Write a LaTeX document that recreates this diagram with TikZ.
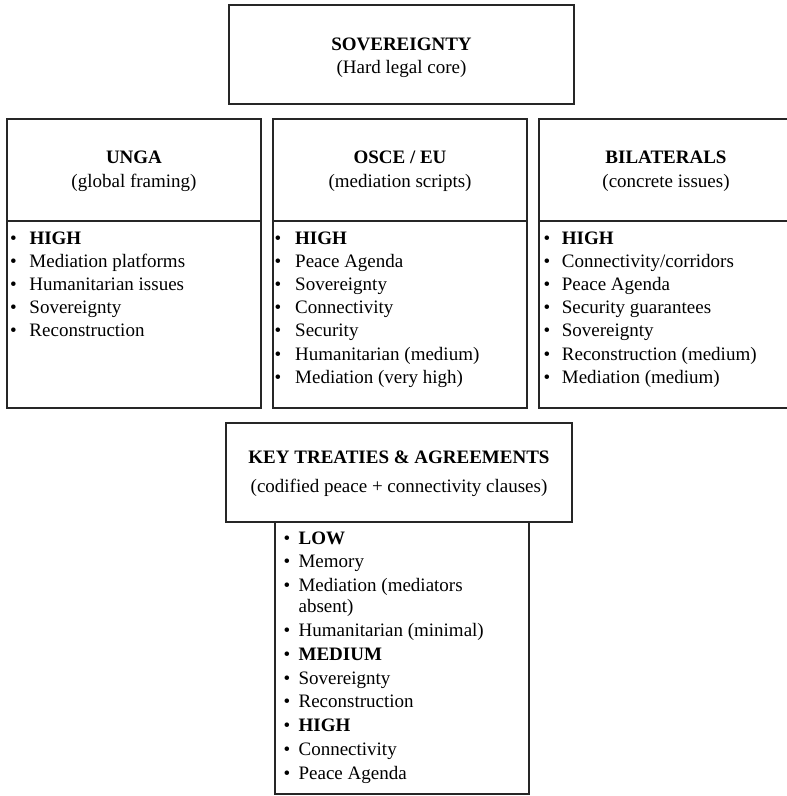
\documentclass[tikz,border=0pt]{standalone}
\usepackage{fontspec}
\setmainfont{Liberation Serif}
\newcommand{\bl}[1]{\makebox[#1][l]{•}}
\begin{document}
\begin{tikzpicture}[x=1pt,y=-1pt,
  box/.style={draw=black!85, line width=1.8pt, inner sep=0pt, outer sep=0pt, anchor=north west},
  ttl/.style={inner sep=0pt, anchor=base, font=\fontsize{19}{23}\selectfont\bfseries},
  sub/.style={inner sep=0pt, anchor=base, font=\fontsize{19}{23}\selectfont},
  itm/.style={inner sep=0pt, anchor=base west, font=\fontsize{19}{23}\selectfont}]
\useasboundingbox (0,0) rectangle (787,796);
% top box
\node[box, minimum width=345pt, minimum height=99pt] (sov) at (229,5) {};
\node[ttl] (sovt) at (401.5,50) {SOVEREIGNTY};
\node[sub] (sovs) at (401.5,73) {(Hard legal core)};
% UNGA
\node[box, minimum width=254pt, minimum height=102pt] (ungah) at (7,119) {};
\node[box, minimum width=254pt, minimum height=187pt] (ungab) at (7,221) {};
\node[ttl] (ungat) at (134,163) {UNGA};
\node[sub] (ungas) at (134,187) {(global framing)};
\foreach \t [count=\i from 0] in {\textbf{HIGH},Mediation platforms,Humanitarian issues,Sovereignty,Reconstruction}
  \node[itm] (ui\i) at (9.9,244+\i*23.2) {\bl{19.4pt}\t};
% OSCE
\node[box, minimum width=254pt, minimum height=102pt] (osceh) at (273,119) {};
\node[box, minimum width=254pt, minimum height=187pt] (osceb) at (273,221) {};
\node[ttl] (oscet) at (400,163) {OSCE / EU};
\node[sub] (osces) at (400,187) {(mediation scripts)};
\foreach \t [count=\i from 0] in {\textbf{HIGH},Peace Agenda,Sovereignty,Connectivity,Security,Humanitarian (medium),Mediation (very high)}
  \node[itm] (oi\i) at (274.4,244+\i*23.2) {\bl{20.6pt}\t};
% BILATERALS
\node[box, minimum width=254pt, minimum height=102pt] (bilh) at (539,119) {};
\node[box, minimum width=254pt, minimum height=187pt] (bilb) at (539,221) {};
\node[ttl] (bilt) at (666,163) {BILATERALS};
\node[sub] (bils) at (666,187) {(concrete issues)};
\foreach \t [count=\i from 0] in {\textbf{HIGH},Connectivity/corridors,Peace Agenda,Security guarantees,Sovereignty,Reconstruction (medium),Mediation (medium)}
  \node[itm] (bi\i) at (543.4,244+\i*23.2) {\bl{18.3pt}\t};
% KEY TREATIES
\node[box, minimum width=346pt, minimum height=99pt] (keyh) at (226,423) {};
\node[box, minimum width=254pt, minimum height=272pt] (keyb) at (275,522) {};
\node[ttl] (keyt) at (399,463) {KEY TREATIES \& AGREEMENTS};
\node[sub] (keys) at (399,492) {(codified peace + connectivity clauses)};
\node[itm] (k0) at (283.4,544) {\bl{15pt}\textbf{LOW}};
\node[itm] (k1) at (283.4,567.8) {\bl{15pt}Memory};
\node[itm] (k2) at (283.4,591.6) {\bl{15pt}Mediation (mediators};
\node[itm] (k2b) at (283.4,612.6) {\hspace*{15pt}absent)};
\node[itm] (k3) at (283.4,636.4) {\bl{15pt}Humanitarian (minimal)};
\node[itm] (k4) at (283.4,660.2) {\bl{15pt}\textbf{MEDIUM}};
\node[itm] (k5) at (283.4,684) {\bl{15pt}Sovereignty};
\node[itm] (k6) at (283.4,707.8) {\bl{15pt}Reconstruction};
\node[itm] (k7) at (283.4,731.6) {\bl{15pt}\textbf{HIGH}};
\node[itm] (k8) at (283.4,755.4) {\bl{15pt}Connectivity};
\node[itm] (k9) at (283.4,779.2) {\bl{15pt}Peace Agenda};
\end{tikzpicture}
\end{document}
